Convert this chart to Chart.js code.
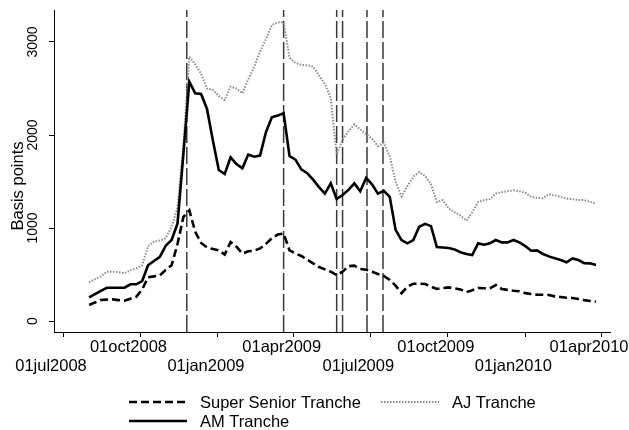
<!DOCTYPE html>
<html>
<head>
<meta charset="utf-8">
<script src="https://cdn.jsdelivr.net/npm/chart.js@4.4.0/dist/chart.umd.min.js"></script>
<style>
    html, body { margin: 0; padding: 0; background: #fff; }
</style>
</head>
<body>
<canvas id="chart" width="629" height="430"></canvas>
<script>

// weekly observations, first one on 01aug2008
const firstWeek = '2008-08-01';

const superSenior = [172, 200, 226, 230, 233, 225, 218, 240, 260, 340, 470, 480, 490, 550, 600, 830, 1120, 1190, 960, 840,
    790, 775, 760, 715, 850, 800, 725, 750, 756, 780, 830, 890, 930, 940, 760, 725, 700, 660, 620, 580,
    555, 530, 495, 530, 590, 595, 560, 552, 530, 505, 485, 441, 380, 300, 370, 400, 402, 398, 370, 345,
    355, 362, 352, 340, 310, 330, 355, 352, 352, 387, 345, 335, 325, 320, 300, 290, 282, 282, 280, 265,
    258, 251, 248, 237, 225, 215, 208];

const ajTranche = [415, 450, 480, 530, 530, 525, 515, 545, 567, 600, 805, 853, 865, 890, 1014, 1220, 1900, 2842, 2760, 2660,
    2500, 2484, 2420, 2376, 2520, 2500, 2448, 2600, 2730, 2900, 3030, 3183, 3210, 3215, 2830, 2775, 2753, 2750, 2735, 2640,
    2550, 2400, 1790, 1950, 2040, 2115, 2060, 2010, 1960, 1880, 1915, 1770, 1500, 1340, 1450, 1552, 1600, 1560, 1470, 1280,
    1300, 1210, 1170, 1135, 1080, 1170, 1280, 1300, 1310, 1370, 1385, 1395, 1405, 1395, 1380, 1335, 1325, 1320, 1365, 1350,
    1335, 1315, 1310, 1302, 1300, 1280, 1265];

const amTranche = [255, 290, 325, 358, 358, 358, 358, 395, 395, 430, 600, 645, 690, 810, 871, 1050, 1800, 2573, 2448, 2441,
    2280, 1940, 1624, 1580, 1760, 1688, 1642, 1790, 1767, 1778, 2030, 2190, 2210, 2233, 1774, 1735, 1630, 1590, 1520, 1440,
    1370, 1480, 1312, 1355, 1410, 1480, 1395, 1540, 1470, 1370, 1400, 1335, 980, 870, 835, 870, 1014, 1045, 1020, 795,
    790, 785, 770, 740, 720, 710, 835, 820, 835, 871, 846, 846, 871, 846, 806, 756, 760, 720, 695, 675,
    655, 631, 672, 656, 622, 620, 602];

const eventDates = ['2008-11-25', '2009-03-20', '2009-05-22', '2009-05-29', '2009-06-27', '2009-07-16'];

const tickDates = ['2008-07-01', '2008-10-01', '2009-01-01', '2009-04-01', '2009-07-01', '2009-10-01', '2010-01-01', '2010-04-01'];
const tickLabels = ['01jul2008', '01oct2008', '01jan2009', '01apr2009', '01jul2009', '01oct2009', '01jan2010', '01apr2010'];

const yTicks = [0, 1000, 2000, 3000];


// days counted from 01jul2008
function dayNumber(s) {
    return (Date.parse(s) - Date.parse('2008-07-01')) / 86400000;
}

const weekDays = superSenior.map((v, i) => dayNumber(firstWeek) + 7 * i);

function toPoints(values) {
    return values.map((v, i) => ({ x: weekDays[i], y: v }));
}

const Y_MIN = -118, Y_MAX = 3344;
const FONT = 'Liberation Sans, Arial, sans-serif';

const eventSets = eventDates.map(d => ({
    label: '',
    data: [{ x: dayNumber(d), y: Y_MIN }, { x: dayNumber(d), y: Y_MAX }],
    borderColor: '#3a3a3a',
    borderWidth: 1.5,
    borderDash: [17, 4],
    pointRadius: 0,
    order: 10
}));


// stata style legend under the plot + rotated y title
const legendPlugin = {
    id: 'stataLegend',
    afterDraw(chart) {
        const ctx = chart.ctx;
        const entries = [
            { ds: 0, x: 129, y: 402 },
            { ds: 1, x: 381, y: 402 },
            { ds: 2, x: 129, y: 421 }
        ];
        ctx.save();
        ctx.font = '16.5px ' + FONT;
        ctx.fillStyle = '#000';
        ctx.textBaseline = 'middle';
        entries.forEach(e => {
            const ds = chart.data.datasets[e.ds];
            ctx.beginPath();
            ctx.setLineDash(ds.borderDash || []);
            ctx.strokeStyle = ds.borderColor;
            ctx.lineWidth = ds.borderWidth;
            ctx.moveTo(e.x, e.y);
            ctx.lineTo(e.x + 58, e.y);
            ctx.stroke();
            ctx.fillText(ds.label, e.x + 71, e.y + 1);
        });

        ctx.setLineDash([]);
        ctx.translate(18.5, 186);
        ctx.rotate(-Math.PI / 2);
        ctx.textAlign = 'center';
        ctx.fillText('Basis points', 0, 0);
        ctx.restore();
    }
};

// keep the plot box fixed, labels may hang over the edges
function noPad(s) {
    s.paddingLeft = 0;
    s.paddingRight = 0;
    s.paddingTop = 0;
    s.paddingBottom = 0;
}


const ctx = document.getElementById('chart').getContext('2d');

new Chart(ctx, {
    type: 'line',
    data: {
        datasets: [
            {
                label: 'Super Senior Tranche',
                data: toPoints(superSenior),
                borderColor: '#000',
                borderWidth: 2.6,
                borderDash: [8, 4],
                pointRadius: 0,
                order: 1
            },
            {
                label: 'AJ Tranche',
                data: toPoints(ajTranche),
                borderColor: '#8c8c8c',
                borderWidth: 2,
                borderDash: [1.5, 1.5],
                pointRadius: 0,
                order: 2
            },
            {
                label: 'AM Tranche',
                data: toPoints(amTranche),
                borderColor: '#000',
                borderWidth: 2.6,
                pointRadius: 0,
                order: 0
            },
            ...eventSets
        ]
    },
    options: {
        responsive: false,
        animation: false,
        layout: {
            autoPadding: false,
            padding: { left: 0, top: 10, right: 19, bottom: 0 }
        },
        plugins: {
            legend: { display: false },
            tooltip: { enabled: false }
        },
        scales: {
            x: {
                type: 'linear',
                min: -10.7,
                max: 649.6,
                afterBuildTicks: s => { s.ticks = tickDates.map(d => ({ value: dayNumber(d) })); },
                afterFit: s => { s.height = 98; noPad(s); },
                grid: {
                    drawOnChartArea: false,
                    color: '#000',
                    tickLength: 5
                },
                border: { color: '#000', width: 1 },
                ticks: {
                    padding: 1,
                    maxRotation: 0,
                    autoSkip: false,
                    labelOffset: -12,
                    color: '#000',
                    font: { family: FONT, size: 16.5, lineHeight: 1.16 },
                    callback: (v, i) => i % 2 ? tickLabels[i] : ['', tickLabels[i]]
                }
            },
            y: {
                min: Y_MIN,
                max: Y_MAX,
                afterBuildTicks: s => { s.ticks = yTicks.map(v => ({ value: v })); },
                afterFit: s => { s.width = 54; noPad(s); },
                grid: {
                    drawOnChartArea: false,
                    color: '#000',
                    tickLength: 5
                },
                border: { color: '#000', width: 1 },
                ticks: {
                    minRotation: 90,
                    maxRotation: 90,
                    crossAlign: 'center',
                    padding: 0,
                    color: '#000',
                    font: { family: FONT, size: 14 },
                    callback: v => String(v)
                }
            }
        }
    },
    plugins: [legendPlugin]
});

</script>
</body>
</html>
